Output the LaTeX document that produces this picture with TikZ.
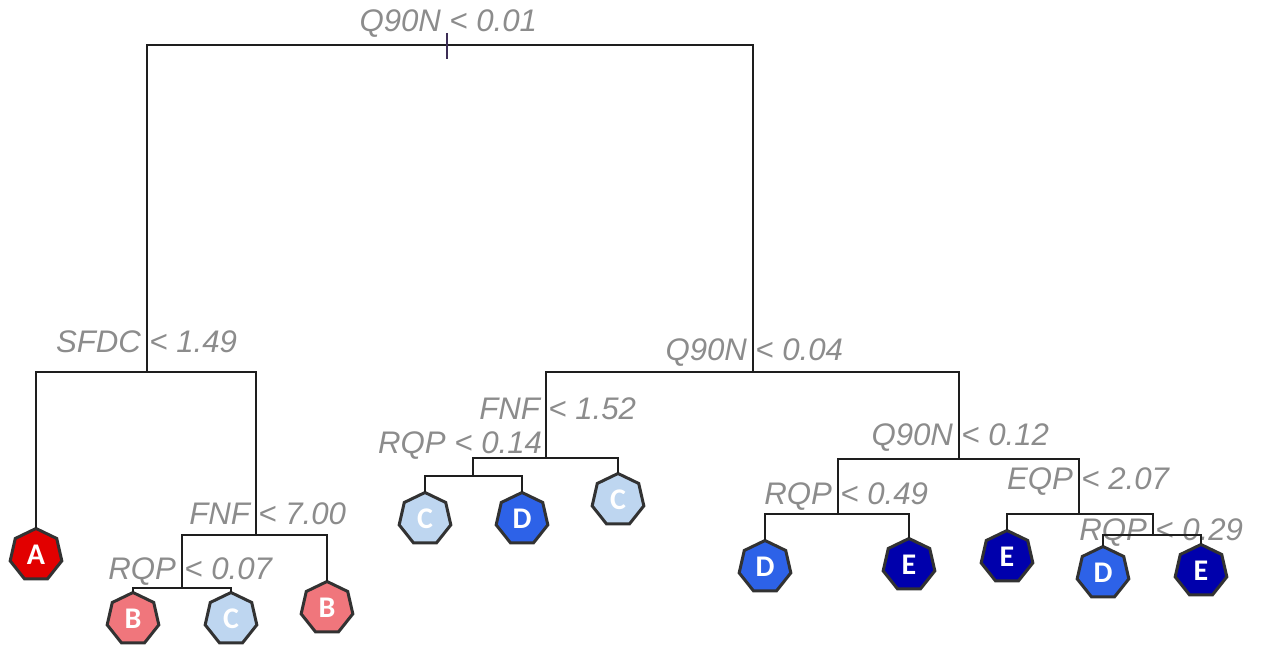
\documentclass[tikz,border=0pt]{standalone}
\usepackage{fontspec}
\setmainfont{Liberation Sans}
\newfontfamily\leaffont{Carlito}
\usetikzlibrary{shapes.geometric}

\definecolor{edgeink}{RGB}{30,30,30}
\definecolor{leafrim}{RGB}{50,50,50}
\definecolor{labelgray}{RGB}{140,140,140}
\definecolor{tickink}{RGB}{60,45,85}
\definecolor{classA}{RGB}{226,0,0}
\definecolor{classB}{RGB}{240,118,124}
\definecolor{classC}{RGB}{190,214,240}
\definecolor{classD}{RGB}{45,98,232}
\definecolor{classE}{RGB}{0,0,172}

% split label: variable name left of the branch line, threshold right of it
\newcommand\splitlabel[2]{\llap{#1\kern3pt}\rlap{\kern1.2pt#2}}

\tikzset{
  edge/.style={draw=edgeink, line width=1.05pt},
  split/.style={inner sep=0pt, outer sep=0pt, text=labelgray,
    font=\fontsize{15.6}{18}\selectfont\itshape, anchor=base},
  leaf/.style={regular polygon, regular polygon sides=7, minimum size=26.5pt,
    inner sep=0pt, outer sep=0pt, draw=leafrim, line width=1.5pt,
    text=white, font=\leaffont\bfseries\fontsize{15}{15}\selectfont},
}

\begin{document}
\begin{tikzpicture}[x=0.5pt,y=-0.5pt]
\useasboundingbox (0,0) rectangle (1264,646);

% branch points of the splits
\coordinate (s0)    at (447,45);
\coordinate (sL)    at (147,372);
\coordinate (sF7)   at (256,535);
\coordinate (sR07)  at (182,588);
\coordinate (sR)    at (753,372);
\coordinate (sF152) at (546,458);
\coordinate (sR14)  at (473,476);
\coordinate (sQ12)  at (959,459);
\coordinate (sR49)  at (838,514);
\coordinate (sEQP)  at (1079,514);
\coordinate (sR29)  at (1153,535);
\coordinate (t0)    at (447,33);
\coordinate (t1)    at (447,59);

% split labels
\node[split] (lab0)    at (447,32)  {\splitlabel{Q90N}{< 0.01}};
\node[split] (labL)    at (147,353) {\splitlabel{SFDC}{< 1.49}};
\node[split] (labF7)   at (256,524) {\splitlabel{FNF}{< 7.00}};
\node[split] (labR07)  at (182,580) {\splitlabel{RQP}{< 0.07}};
\node[split] (labR)    at (753,361) {\splitlabel{Q90N}{< 0.04}};
\node[split] (labF152) at (546,420) {\splitlabel{FNF}{< 1.52}};
\node[split, anchor=base east] (labR14) at (542,454) {RQP < 0.14};
\node[split] (labQ12)  at (959,446) {\splitlabel{Q90N}{< 0.12}};
\node[split] (labR49)  at (838,505) {\splitlabel{RQP}{< 0.49}};
\node[split] (labEQP)  at (1079,489) {\splitlabel{EQP}{< 2.07}};
\node[split] (labR29)  at (1153,540) {\splitlabel{RQP}{< 0.29}};

% leaves
\node[leaf, fill=classA] (A1) at (36,555)   {A};
\node[leaf, fill=classB] (B1) at (133,619)  {B};
\node[leaf, fill=classC] (C1) at (231,619)  {C};
\node[leaf, fill=classB] (B2) at (327,608)  {B};
\node[leaf, fill=classC] (C2) at (425,519)  {C};
\node[leaf, fill=classD] (D1) at (522,519)  {D};
\node[leaf, fill=classC] (C3) at (618,500)  {C};
\node[leaf, fill=classD] (D2) at (765,567)  {D};
\node[leaf, fill=classE] (E1) at (909,565)  {E};
\node[leaf, fill=classE] (E2) at (1007,557) {E};
\node[leaf, fill=classD] (D3) at (1103,573) {D};
\node[leaf, fill=classE] (E3) at (1201,571) {E};

% tree edges
\draw[edge] (s0) -| (sL);
\draw[edge] (s0) -| (sR);
\draw[edge] (sL) -| (A1.north);
\draw[edge] (sL) -| (sF7);
\draw[edge] (sF7) -| (sR07);
\draw[edge] (sF7) -| (B2.north);
\draw[edge] (sR07) -| (B1.north);
\draw[edge] (sR07) -| (C1.north);
\draw[edge] (sR) -| (sF152);
\draw[edge] (sR) -| (sQ12);
\draw[edge] (sF152) -| (sR14);
\draw[edge] (sF152) -| (C3.north);
\draw[edge] (sR14) -| (C2.north);
\draw[edge] (sR14) -| (D1.north);
\draw[edge] (sQ12) -| (sR49);
\draw[edge] (sQ12) -| (sEQP);
\draw[edge] (sR49) -| (D2.north);
\draw[edge] (sR49) -| (E1.north);
\draw[edge] (sEQP) -| (E2.north);
\draw[edge] (sEQP) -| (sR29);
\draw[edge] (sR29) -| (D3.north);
\draw[edge] (sR29) -| (E3.north);

% root marker
\draw[draw=tickink, line width=1pt] (t0) -- (t1);
\end{tikzpicture}
\end{document}
